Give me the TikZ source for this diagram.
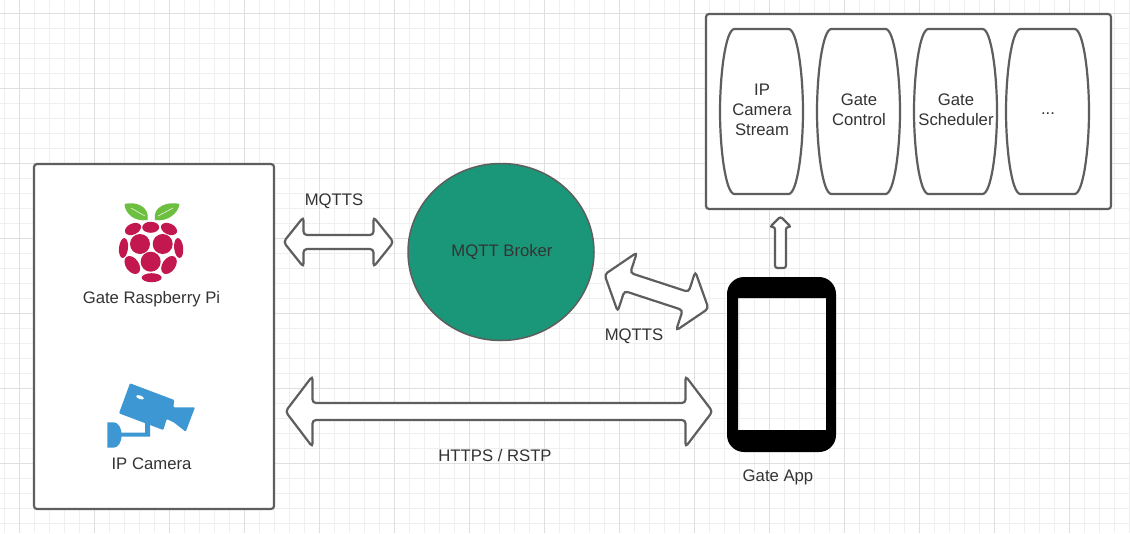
\documentclass[tikz,border=0pt]{standalone}
\usepackage{fontspec}
\setmainfont{Liberation Sans}
\usepackage{xcolor}
\usepackage{tikz}
\usetikzlibrary{calc,shapes.geometric}
\definecolor{cLine} {HTML}{5e5e5e}
\definecolor{cText} {HTML}{333333}
\definecolor{cBroker}{HTML}{1a9779}
\definecolor{cGridA}{HTML}{efefef}
\definecolor{cGridB}{HTML}{dfdfdf}
\definecolor{cBerry}{HTML}{c2174f}
\definecolor{cLeaf} {HTML}{6dbf3f}
\definecolor{cCam}  {HTML}{3d97d3}
\tikzset{
  lbl/.style={text=cText,font=\fontsize{16.7}{20}\selectfont,align=center,inner sep=0},
  panel/.style={draw=cLine,fill=white,line width=2.2pt,rounded corners=3pt},
  blockline/.style={draw=cLine,fill=white,line width=2.2pt,rounded corners=3.5pt},
  % shaft half width, head half width, head length
  twoway/.style n args={3}{to path={
    -- ($(\tikztostart)!#3!(\tikztotarget)!#2!90:(\tikztotarget)$)
    -- ($(\tikztostart)!#3!(\tikztotarget)!#1!90:(\tikztotarget)$)
    -- ($(\tikztotarget)!#3!(\tikztostart)!#1!-90:(\tikztostart)$)
    -- ($(\tikztotarget)!#3!(\tikztostart)!#2!-90:(\tikztostart)$)
    -- (\tikztotarget)
    -- ($(\tikztotarget)!#3!(\tikztostart)!#2!90:(\tikztostart)$)
    -- ($(\tikztotarget)!#3!(\tikztostart)!#1!90:(\tikztostart)$)
    -- ($(\tikztostart)!#3!(\tikztotarget)!#1!-90:(\tikztotarget)$)
    -- ($(\tikztostart)!#3!(\tikztotarget)!#2!-90:(\tikztotarget)$)
    -- cycle}},
  oneway/.style n args={3}{rounded corners=2.4pt,to path={
    -- ($(\tikztostart)!#3!(\tikztotarget)!#2!90:(\tikztotarget)$)
    -- ($(\tikztostart)!#3!(\tikztotarget)!#1!90:(\tikztotarget)$)
    -- ($(\tikztotarget)!#1!-90:(\tikztostart)$)
    -- ($(\tikztotarget)!#1!90:(\tikztostart)$)
    -- ($(\tikztostart)!#3!(\tikztotarget)!#1!-90:(\tikztotarget)$)
    -- ($(\tikztostart)!#3!(\tikztotarget)!#2!-90:(\tikztotarget)$)
    -- cycle}}
}
\begin{document}
\begin{tikzpicture}[x=1pt,y=-1pt]
  \useasboundingbox (0,0) rectangle (1130,533);
  \fill[white] (0,0) rectangle (1130,533);
  % grid
  \foreach \i in {4,19,...,1129} {\draw[cGridA,line width=1pt] (\i+0.5,0)--(\i+0.5,533);}
  \foreach \j in {13,28,...,532} {\draw[cGridA,line width=1pt] (0,\j+0.5)--(1130,\j+0.5);}
  \foreach \i in {19,94,...,1129} {\draw[cGridB,line width=1pt] (\i+0.5,0)--(\i+0.5,533);}
  \foreach \j in {13,88,...,532} {\draw[cGridB,line width=1pt] (0,\j+0.5)--(1130,\j+0.5);}

  % boxes
  \path[panel] (34,164) rectangle (274,509);
  \path[panel] (706,14) rectangle (1111,209);
  \node[lbl] (stream) at (762,110) {IP\\Camera\\Stream};
  \node[lbl] (control) at (859,110) {Gate\\Control};
  \node[lbl] (sched) at (956,110) {Gate\\Scheduler};
  \node[lbl] (more) at (1048,110) {\raisebox{-4pt}[0pt][0pt]{...}};
  \foreach \name in {stream,control,sched,more}
    {\draw[cLine,line width=2.2pt,shift={(\name)},xshift=-0.5]
      (-27,-81) -- (27,-81)
      .. controls (36,-81) and (41.5,-35) .. (41.5,1.5)
      .. controls (41.5,38) and (36,84) .. (27,84)
      -- (-27,84)
      .. controls (-36,84) and (-41.5,38) .. (-41.5,1.5)
      .. controls (-41.5,-35) and (-36,-81) .. (-27,-81) -- cycle;}

  % broker
  \node[ellipse,draw=cLine,fill=cBroker,line width=1.5pt,minimum width=186,minimum height=177,
    inner sep=0,lbl] (broker) at (501,252) {\kern2pt MQTT Broker};

  % phone
  \fill[black,even odd rule] (727,277) [rounded corners=17pt] rectangle (836,452)
    [sharp corners] (738,298) rectangle (826,430);
  \node[lbl] (app) at (778,477) {Gate App};

  % raspberry
  \foreach \cx/\cy/\rx/\ry/\ang in {140/244/10/10/0,162.7/244/10/10/0,150.7/261.7/10/10/0,
    150.7/227.3/8.5/5.5/0,133/229/8.5/5.5/25,169/229/8.5/5.5/-25,123.5/248/4.5/10/-6,178.7/248/4.5/10/6,
    132.3/265/6.5/10/35,169/265/6.5/10/-35,151.7/277.7/10/4.5/0}
    {\fill[cBerry] (\cx,\cy) ellipse [x radius=\rx,y radius=\ry,rotate=\ang];}
  \fill[cLeaf] (124.5,204) .. controls (135,201) and (150,206) .. (147.5,220)
    .. controls (135,222) and (125,214) .. cycle;
  \fill[cLeaf] (179.5,204) .. controls (169,201) and (152,206) .. (155,220)
    .. controls (167,222) and (178,214) .. cycle;
  \draw[white,line width=0.5pt] (131,208)--(145,216) (173,208)--(158,216);
  \node[lbl] (pi) at (151.5,299) {Gate Raspberry Pi};

  % camera
  \fill[cCam,rounded corners=1pt] (130,383.3) -- (174.3,400) -- (173.3,407.3) -- (195,407.3)
    -- (185.7,431.7) -- (174,422.5) -- (166.7,419) -- (163.3,430) -- (119,413.3) -- cycle;
  \fill[white] (140,397.3) ellipse [x radius=4,y radius=1.8,rotate=-20];
  \fill[cCam] (120,432.5) rectangle (150,436.5) (145,419) rectangle (150,436.5);
  \fill[cCam] (107.3,422.3) -- (113.7,422.3) arc [start angle=-90,end angle=90,x radius=8,y radius=12.7]
    -- (107.3,447.7) -- cycle;
  \node[lbl] (cam) at (151.5,464) {IP Camera};

  % arrows
  \coordinate (piL) at (283.5,242);
  \coordinate (piR) at (393.5,242);
  \coordinate (appL) at (604.5,274.5);
  \coordinate (appR) at (708.5,308.5);
  \coordinate (camL) at (285.5,411.5);
  \coordinate (camR) at (712.5,411.5);
  \coordinate (upB) at (780.5,268);
  \coordinate (upT) at (780.5,216.5);
  \draw[blockline,oneway={5.5pt}{10.5pt}{10.5pt}] (upT) to (upB);
  \draw[blockline,twoway={7pt}{25pt}{20pt}] (piL) to (piR);
  \draw[blockline,twoway={9.5pt}{31pt}{24pt}] (appL) to (appR);
  \draw[blockline,twoway={8.5pt}{35.5pt}{27pt}] (camL) to (camR);

  \node[lbl] (l1) at (334,201) {MQTTS};
  \node[lbl] (l2) at (634,336) {MQTTS};
  \node[lbl] (l3) at (495,456) {HTTPS / RSTP};
\end{tikzpicture}
\end{document}
